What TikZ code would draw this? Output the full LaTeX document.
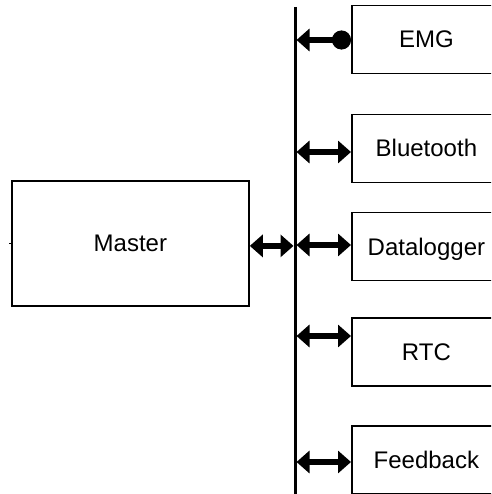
\documentclass[tikz,border=0pt]{standalone}
\usepackage{fontspec}
\setmainfont{Liberation Sans}
\usetikzlibrary{arrows.meta}
\begin{document}
\begin{tikzpicture}[x=1pt,y=-1pt,
  label font/.style={font=\fontsize{24}{28}\selectfont,text height=17pt,text depth=0pt,inner sep=0pt},
  module/.style={draw,line width=1.8pt,minimum width=149pt,minimum height=68pt,anchor=west,label font},
  busline/.style={line width=3pt},
  link/.style={line width=5.5pt,{Triangle[length=13pt,width=22pt]}-{Triangle[length=13pt,width=22pt]}},
  sensorlink/.style={line width=5.5pt,{Circle[length=19pt,width=19pt]}-{Triangle[length=13pt,width=22pt]}},
]
\clip (0,0) rectangle (491,494);

% shared bus
\coordinate (bustop) at (295,7);
\coordinate (busbot) at (295,494);
\coordinate (busL) at (293.5,0);
\coordinate (busR) at (296.5,0);
\draw[busline] (bustop) -- (busbot);

% master unit
\node[draw,line width=1.8pt,minimum width=237pt,minimum height=125pt,anchor=north west,label font] (master) at (11,180) {Master};
\draw[line width=1.5pt] (master.west) -- ++(-2,0);

% peripheral modules
\node[module] (emg)  at (351,39.5)  {EMG};
\node[module] (bt)   at (351,148.5) {Bluetooth};
\node[module] (dlog) at (351,246.5) {Datalogger};
\node[module] (rtc)  at (351,352)   {RTC};
\node[module] (fb)   at (351,460)   {Feedback};

% links to the bus
\draw[link] ([yshift=-2.5pt]master.east) -- ([yshift=-2.5pt]master.east -| busL);
\draw[sensorlink] ([yshift=-0.5pt]emg.west) -- ([yshift=-0.5pt]emg.west -| busR);
\draw[link] ([yshift=-3.5pt]bt.west -| busR) -- ([yshift=-3.5pt]bt.west);
\draw[link] ([yshift=1.5pt]dlog.west -| busR) -- ([yshift=1.5pt]dlog.west);
\draw[link] ([yshift=16pt]rtc.west -| busR) -- ([yshift=16pt]rtc.west);
\draw[link] ([yshift=-2pt]fb.west -| busR) -- ([yshift=-2pt]fb.west);
\end{tikzpicture}
\end{document}
